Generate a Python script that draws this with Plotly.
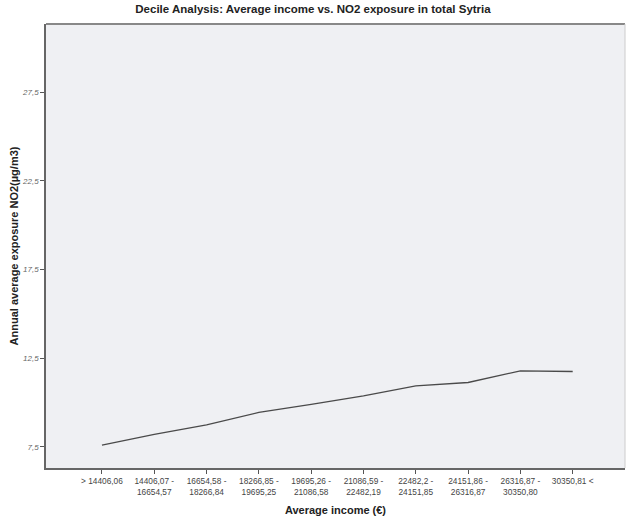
import plotly.graph_objects as go

categories = ["> 14406,06", "14406,07 -<br>16654,57", "16654,58 -<br>18266,84",
              "18266,85 -<br>19695,25", "19695,26 -<br>21086,58", "21086,59 -<br>22482,19",
              "22482,2 -<br>24151,85", "24151,86 -<br>26316,87", "26316,87 -<br>30350,80",
              "30350,81 <"]
no2_values = [7.6, 8.2, 8.74, 9.44, 9.9, 10.38, 10.94, 11.13, 11.79, 11.75]
y_tickvals = [7.5, 12.5, 17.5, 22.5, 27.5]
y_ticktext = ["7,5", "12,5", "17,5", "22,5", "27,5"]

xs = list(range(len(categories)))

fig = go.Figure()
fig.add_trace(go.Scatter(x=xs, y=no2_values, mode="lines",
                         line=dict(color="#4a4a4a", width=1.3), showlegend=False))

font_family = "Liberation Sans, Arial, sans-serif"
fig.update_layout(
    width=626, height=519,
    margin=dict(l=46, r=1, t=24, b=51),
    paper_bgcolor="white", plot_bgcolor="#eff0f3",
    title=dict(text="<b>Decile Analysis: Average income vs. NO2 exposure in total Sytria</b>",
               x=0.5, xanchor="center", y=1 - 9/519, yanchor="middle",
               font=dict(family=font_family, size=11.5, color="#222")),
    xaxis=dict(range=[-1.07, 10.0], tickvals=xs, ticktext=categories,
               showgrid=False, zeroline=False, ticks="outside", ticklen=4,
               tickcolor="#555", showline=True, linecolor="#666", linewidth=1.5,
               mirror=False, tickangle=0,
               tickfont=dict(family=font_family, size=8.3, color="#444"),
               title=dict(text="<b>Average income (€)</b>", standoff=11,
                          font=dict(family=font_family, size=11, color="#222"))),
    yaxis=dict(range=[6.31, 31.34], tickvals=y_tickvals, ticktext=y_ticktext,
               showgrid=False, zeroline=False, ticks="outside", ticklen=4,
               tickcolor="#555", showline=True, linecolor="#666", linewidth=1.5,
               tickfont=dict(family=font_family, size=8, color="#666", style="italic"),
               title=dict(text="<b>Annual average exposure NO2(µg/m3)</b>", standoff=1,
                          font=dict(family=font_family, size=11, color="#222"))),
)
# top and right frame
fig.add_shape(type="line", xref="paper", yref="paper", x0=0, x1=1, y0=1, y1=1,
              line=dict(color="#888", width=2))
fig.add_shape(type="line", xref="paper", yref="paper", x0=1, x1=1, y0=0, y1=1,
              line=dict(color="#ccc", width=1))

fig.write_html("out.html")
